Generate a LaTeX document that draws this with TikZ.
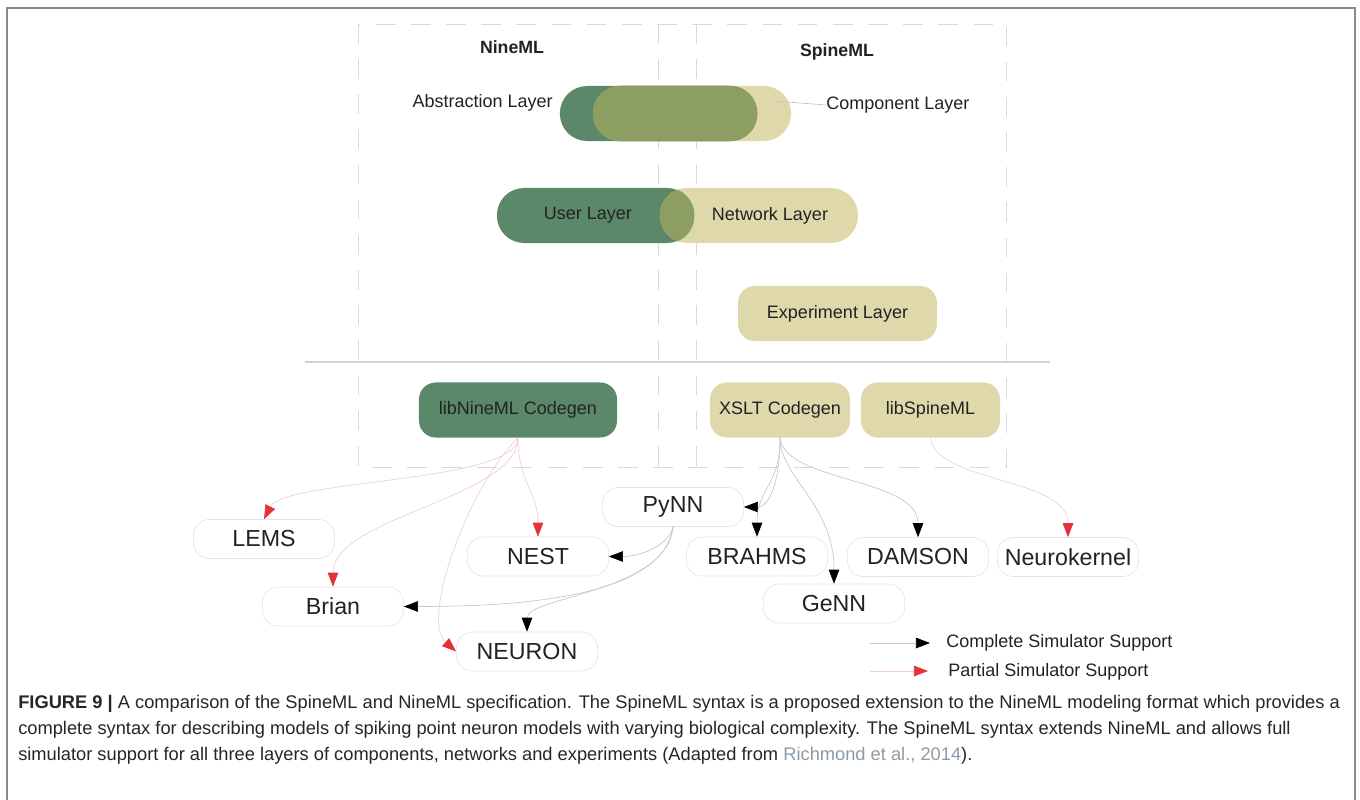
\documentclass[tikz,border=0pt]{standalone}
\usepackage{fontspec}
\setmainfont{Liberation Sans}
\usetikzlibrary{arrows.meta}

\definecolor{nineGreen}{HTML}{5A8869}
\definecolor{spineBeige}{HTML}{DED8AA}
\definecolor{mixOlive}{HTML}{8D9E62}
\definecolor{inkGrey}{HTML}{222222}
\definecolor{frameGrey}{HTML}{8A8A8A}
\definecolor{dashGrey}{HTML}{D9D9D9}
\definecolor{fullLine}{HTML}{C8C8C8}
\definecolor{partLine}{HTML}{F2D0D0}
\definecolor{partRed}{HTML}{E53238}
\definecolor{refGrey}{HTML}{8C9AA6}

\tikzset{
  mllayer/.style={minimum width=4.93cm, minimum height=1.375cm, rounded corners=0.68cm,
    inner sep=0pt, text=inkGrey, font=\fontsize{12.8}{14}\selectfont},
  ninelayer/.style={mllayer, fill=nineGreen},
  spinelayer/.style={mllayer, fill=spineBeige},
  codegen/.style={mllayer, rounded corners=0.42cm},
  simbox/.style={draw=gray!22, fill=white, minimum width=3.53cm, minimum height=0.975cm,
    rounded corners=0.4cm, inner sep=0pt, text=inkGrey, font=\fontsize{16.5}{18}\selectfont},
  labeltext/.style={inner sep=0pt, text=inkGrey, font=\fontsize{12.8}{14}\selectfont},
  fullsupport/.style={draw=fullLine, line width=0.5pt, -{Triangle[length=10pt,width=7.5pt,color=black]}},
  partsupport/.style={draw=partLine, line width=0.5pt, -{Triangle[length=10pt,width=7.5pt,color=partRed]}},
  captext/.style={anchor=west, inner sep=0pt, text=black!85, font=\fontsize{13}{15}\selectfont},
  boxline/.style={dashGrey, line width=0.6pt, dash pattern=on 14pt off 11pt},
}

\begin{document}
\begin{tikzpicture}[x=0.025cm, y=-0.025cm]
  \useasboundingbox (0,0) rectangle (1360,800);
  \draw[frameGrey, line width=1.4pt] (7,800) -- (7,8) -- (1355,8) -- (1355,800);

  % the two specifications
  \draw[boxline] (358,24) rectangle (1006,467);
  \draw[boxline] (658,24) -- (658,467);
  \draw[boxline] (696,24) -- (696,467);
  \draw[gray!35, line width=0.8pt] (305,362) -- (1050,362);

  \node[labeltext, font=\bfseries\fontsize{12.6}{14}\selectfont] (nineml) at (512,47) {NineML};
  \node[labeltext, font=\bfseries\fontsize{12.6}{14}\selectfont] (spineml) at (837,52) {SpineML};

  \node[spinelayer, minimum width=4.95cm] (comp) at (692,113.5) {};
  \node[ninelayer] (abstr) at (658.5,113.5) {};
  \begin{scope}
    \clip[rounded corners=0.68cm] (comp.south west) rectangle (comp.north east);
    \fill[mixOlive, rounded corners=0.68cm] (abstr.south west) rectangle (abstr.north east);
  \end{scope}
  \node[labeltext, anchor=east] (abstrlabel) at (553,103) {Abstraction Layer};
  \node[labeltext, anchor=west] (complabel) at (826,105) {Component Layer};
  \coordinate (comppin) at (774,101);
  \draw[gray!45, line width=0.5pt] (complabel.west) -- (comppin);

  \node[ninelayer] (user) at (595.5,215.5) {User Layer\hspace{0.38cm}\mbox{}};
  \node[spinelayer, minimum width=4.95cm] (network) at (759,215.5) {\hspace{0.55cm}Network Layer};
  \begin{scope}
    \clip[rounded corners=0.68cm] (network.south west) rectangle (network.north east);
    \fill[mixOlive, rounded corners=0.68cm] (user.south west) rectangle (user.north east);
  \end{scope}

  \node[spinelayer, rounded corners=0.42cm, minimum width=4.97cm] (experiment) at (837.5,313.5) {Experiment Layer};

  \node[codegen, fill=nineGreen, minimum width=4.95cm] (ninegen) at (518,410) {libNineML Codegen};
  \node[codegen, fill=spineBeige, minimum width=3.5cm] (xslt) at (780,410) {XSLT Codegen};
  \node[codegen, fill=spineBeige, minimum width=3.48cm] (spinelib) at (930.5,410) {libSpineML};

  % simulators
  \node[simbox] (lems) at (264,539) {LEMS};
  \node[simbox] (pynn) at (673,507) {PyNN};
  \node[simbox] (nest) at (538,556.5) {NEST};
  \node[simbox] (brahms) at (757,556.5) {BRAHMS};
  \node[simbox] (damson) at (918,557) {DAMSON};
  \node[simbox] (neurokernel) at (1068,557) {Neurokernel};
  \node[simbox] (brian) at (333,606.5) {Brian};
  \node[simbox] (genn) at (834,603.5) {GeNN};
  \node[simbox] (neuron) at (527,651.5) {NEURON};

  \draw[partsupport] (ninegen.south) .. controls +(0,45) and +(20,-40) .. (lems.north);
  \draw[partsupport] (ninegen.south) .. controls +(0,60) and +(0,-70) .. (brian.north);
  \draw[partsupport] (ninegen.south) .. controls +(0,45) and +(0,-45) .. (nest.north);
  \draw[partsupport] (ninegen.south) .. controls +(-50,50) and +(-36,-32) .. (neuron.west);

  \draw[fullsupport] (xslt.south) .. controls +(0,45) and +(25,0) .. (pynn.east);
  \draw[fullsupport] (xslt.south) .. controls +(0,50) and +(0,-50) .. (brahms.north);
  \draw[fullsupport] (xslt.south) .. controls +(0,40) and +(0,-80) .. (genn.north);
  \draw[fullsupport] (xslt.south) .. controls +(5,45) and +(0,-60) .. (damson.north);
  \draw[partsupport] (spinelib.south) .. controls +(5,45) and +(0,-60) .. (neurokernel.north);

  \draw[fullsupport] (pynn.south) .. controls +(-5,20) and +(30,0) .. (nest.east);
  \draw[fullsupport] (pynn.south) .. controls +(-10,70) and +(120,0) .. (brian.east);
  \draw[fullsupport] (pynn.south) .. controls +(-5,65) and +(0,-35) .. (neuron.north);

  % legend
  \coordinate (fullA) at (870,643);
  \coordinate (fullB) at (930,643);
  \coordinate (partA) at (870,671);
  \coordinate (partB) at (928,671);
  \draw[fullsupport] (fullA) -- (fullB);
  \draw[partsupport] (partA) -- (partB);
  \node[labeltext, anchor=west] (fulltext) at (946,643) {Complete Simulator Support};
  \node[labeltext, anchor=west] (parttext) at (948,672) {Partial Simulator Support};

  % caption
  \node[captext] (cap1) at (18,704) {\textbf{FIGURE 9 |} A comparison of the SpineML and NineML specification. The SpineML syntax is a proposed extension to the NineML modeling format which provides a};
  \node[captext] (cap2) at (18,730) {complete syntax for describing models of spiking point neuron models with varying biological complexity. The SpineML syntax extends NineML and allows full};
  \node[captext] (cap3) at (18,756) {simulator support for all three layers of components, networks and experiments (Adapted from \textcolor{refGrey}{Richmond et al., 2014}).};
\end{tikzpicture}
\end{document}
